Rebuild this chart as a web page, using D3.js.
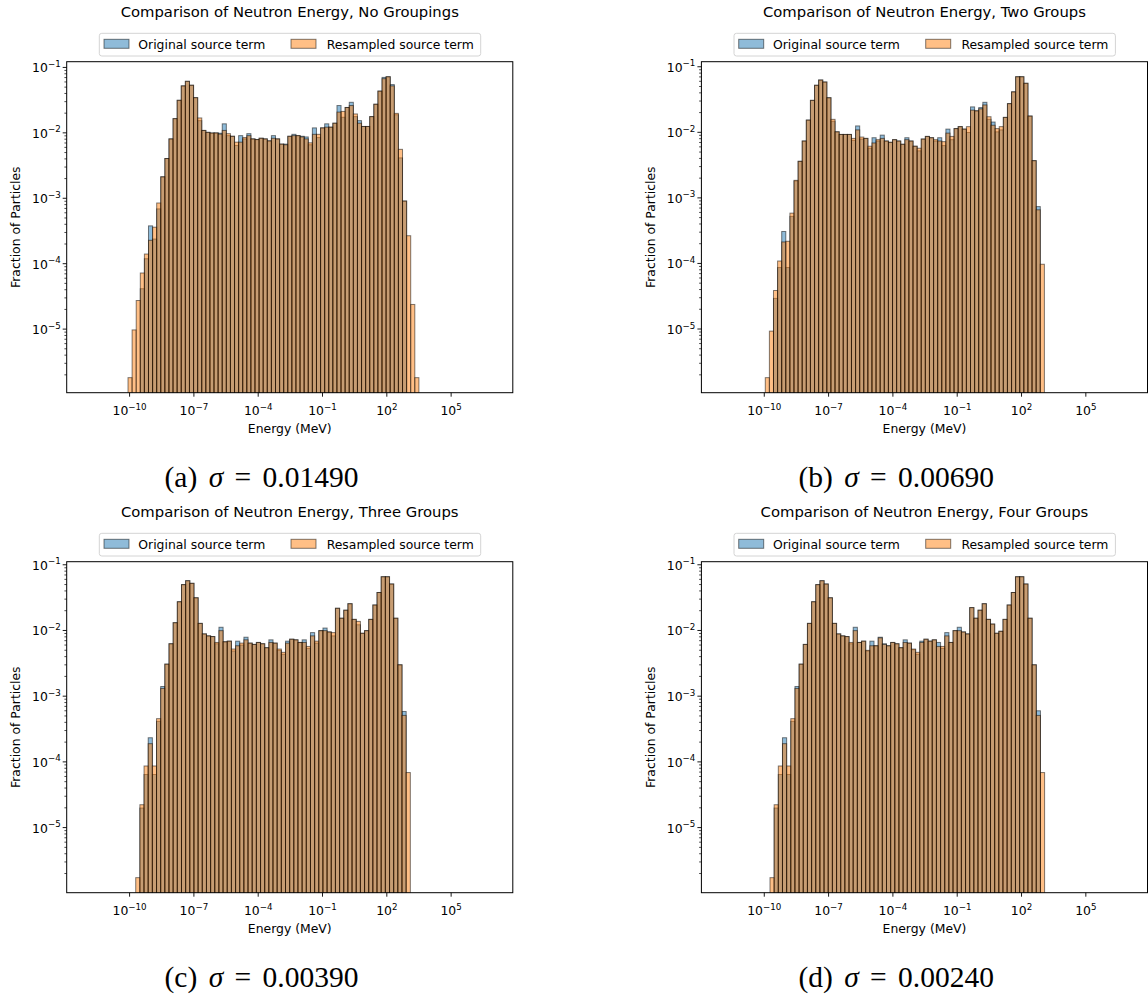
<!DOCTYPE html>
<html>
<head>
<meta charset="utf-8">
<script src="https://cdn.jsdelivr.net/npm/d3@7"></script>
<style>
  body { margin: 0; background: #fff; }
  svg { display: block; }
  text { font-family: "DejaVu Sans", sans-serif; fill: #000; }
</style>
</head>
<body>
<svg id="fig" width="1148" height="999"></svg>
<script>
// ---- Histogram data: fraction of particles per log-spaced energy bin ----
// Bin ranges are given as [log10(Emin), log10(Emax)] in MeV; bins are equal width in log space.

// (a) No groupings
const aBinRange = [-10.05, 3.52];
const aOriginal = [0, 0, 0, 4.07e-5, 1.17e-4, 3.72e-4, 2.34e-4, 6.76e-4, 2.09e-3, 3.98e-3,
  7.94e-3, 0.0162, 0.0309, 0.0513, 0.0603, 0.0525, 0.0339, 0.0151, 0.0107, 0.0100,
  0.00977, 0.0098, 0.0097, 0.0135, 0.00891, 0.00871, 0.00631, 0.00891, 0.00794, 0.00955,
  0.00794, 0.00776, 0.00813, 0.00794, 0.00741, 0.00891, 0.00794, 0.00661, 0.00661, 0.00871,
  0.00933, 0.00891, 0.00871, 0.00851, 0.00646, 0.0117, 0.00832, 0.0117, 0.0135, 0.0120,
  0.0138, 0.0257, 0.0170, 0.0240, 0.0288, 0.0174, 0.0151, 0.0123, 0.0123, 0.0174,
  0.0269, 0.0427, 0.0692, 0.0708, 0.0537, 0.0186, 0.00407, 8.91e-4, 0, 0, 0];
const aResampled = [1.78e-6, 9.55e-6, 2.69e-5, 7.08e-5, 1.38e-4, 2.24e-4, 3.55e-4, 8.32e-4, 2.09e-3, 3.98e-3,
  7.94e-3, 0.0162, 0.0309, 0.0513, 0.0603, 0.0525, 0.0339, 0.0166, 0.0107, 0.0100,
  0.00977, 0.0098, 0.0094, 0.0107, 0.00955, 0.00871, 0.00708, 0.00708, 0.00832, 0.00891,
  0.00794, 0.00776, 0.00813, 0.00794, 0.00741, 0.00813, 0.00794, 0.00661, 0.00646, 0.00871,
  0.00891, 0.00891, 0.00851, 0.00794, 0.00692, 0.00933, 0.00933, 0.0117, 0.0120, 0.0120,
  0.0138, 0.0204, 0.0209, 0.0240, 0.0257, 0.0191, 0.0138, 0.0123, 0.0123, 0.0174,
  0.0269, 0.0427, 0.0661, 0.0708, 0.0513, 0.0195, 0.00550, 8.91e-4, 2.63e-4, 2.34e-5, 1.78e-6];

// (b) Two groups
const bBinRange = [-9.93, 3.09];
const bOriginal = [0, 0, 2.88e-5, 8.51e-5, 3.02e-4, 8.51e-5, 5.13e-4, 1.78e-3, 3.55e-3, 7.24e-3,
  0.0151, 0.0302, 0.0513, 0.0617, 0.0575, 0.0331, 0.0145, 0.0100, 0.00912, 0.00912,
  0.00912, 0.00741, 0.0123, 0.00776, 0.00794, 0.00562, 0.00813, 0.00724, 0.00891, 0.00724,
  0.00692, 0.00759, 0.00724, 0.00646, 0.00813, 0.00724, 0.00603, 0.00513, 0.00776, 0.00851,
  0.00813, 0.00724, 0.00813, 0.00617, 0.0110, 0.00759, 0.0112, 0.0120, 0.0110, 0.00977,
  0.0240, 0.0209, 0.0234, 0.0282, 0.0155, 0.0141, 0.0100, 0.0107, 0.0166, 0.0269,
  0.0407, 0.0692, 0.0692, 0.0550, 0.0174, 0.00363, 7.24e-4, 0];
const bResampled = [1.78e-6, 9.12e-6, 3.80e-5, 1.07e-4, 2.09e-4, 2.14e-4, 5.75e-4, 1.82e-3, 3.55e-3, 7.24e-3,
  0.0151, 0.0302, 0.0513, 0.0617, 0.0575, 0.0331, 0.0155, 0.0100, 0.00912, 0.00912,
  0.00912, 0.00794, 0.0107, 0.00832, 0.00794, 0.00603, 0.00676, 0.00759, 0.00794, 0.00724,
  0.00692, 0.00759, 0.00724, 0.00646, 0.00759, 0.00724, 0.00603, 0.00562, 0.00776, 0.00851,
  0.00813, 0.00759, 0.00724, 0.00708, 0.00955, 0.00851, 0.0112, 0.0120, 0.0110, 0.0120,
  0.0214, 0.0209, 0.0224, 0.0257, 0.0170, 0.0126, 0.0112, 0.0120, 0.0166, 0.0269,
  0.0407, 0.0692, 0.0692, 0.0550, 0.0174, 0.00363, 6.46e-4, 9.55e-5];

// (c) Three groups
const cBinRange = [-9.69, 3.12];
const cOriginal = [0, 1.95e-5, 6.31e-5, 2.29e-4, 6.31e-5, 4.07e-4, 1.38e-3, 3.02e-3, 6.17e-3, 0.0129,
  0.0269, 0.0490, 0.0562, 0.0513, 0.0309, 0.0126, 0.00871, 0.00813, 0.00794, 0.00617,
  0.0110, 0.00661, 0.00676, 0.00479, 0.00676, 0.00589, 0.00776, 0.00631, 0.00603, 0.00646,
  0.00617, 0.00537, 0.00708, 0.00631, 0.00490, 0.00427, 0.00676, 0.00724, 0.00708, 0.00646,
  0.00708, 0.00525, 0.00912, 0.00631, 0.00977, 0.0107, 0.00933, 0.00813, 0.0214, 0.0151,
  0.0200, 0.0251, 0.0145, 0.0120, 0.00891, 0.00977, 0.0145, 0.0240, 0.0372, 0.0646,
  0.0646, 0.0501, 0.0151, 0.00295, 5.75e-4, 0];
const cResampled = [1.70e-6, 2.19e-5, 8.51e-5, 1.86e-4, 8.51e-5, 4.47e-4, 1.29e-3, 3.02e-3, 6.17e-3, 0.0129,
  0.0269, 0.0490, 0.0562, 0.0513, 0.0309, 0.0126, 0.00871, 0.00813, 0.00794, 0.00646,
  0.00977, 0.00661, 0.00676, 0.00513, 0.00575, 0.00631, 0.00708, 0.00631, 0.00603, 0.00646,
  0.00617, 0.00537, 0.00646, 0.00631, 0.00513, 0.00457, 0.00631, 0.00724, 0.00708, 0.00646,
  0.00646, 0.00562, 0.00813, 0.00676, 0.00977, 0.00977, 0.00933, 0.00912, 0.0214, 0.0151,
  0.0200, 0.0251, 0.0145, 0.0135, 0.00891, 0.00977, 0.0145, 0.0240, 0.0372, 0.0646,
  0.0646, 0.0501, 0.0151, 0.00295, 5.01e-4, 6.76e-5];

// (d) Four groups
const dBinRange = [-9.71, 3.10];
const dOriginal = [0, 1.95e-5, 6.31e-5, 2.29e-4, 6.31e-5, 4.07e-4, 1.38e-3, 3.02e-3, 6.03e-3, 0.0126,
  0.0269, 0.0490, 0.0562, 0.0501, 0.0309, 0.0126, 0.00871, 0.00813, 0.00794, 0.00617,
  0.0110, 0.00646, 0.00676, 0.00479, 0.00676, 0.00575, 0.00776, 0.00617, 0.00575, 0.00646,
  0.00617, 0.00537, 0.00708, 0.00631, 0.00501, 0.00427, 0.00676, 0.00724, 0.00676, 0.00708,
  0.00646, 0.00525, 0.00912, 0.00646, 0.00977, 0.0110, 0.00933, 0.00871, 0.0219, 0.0151,
  0.0200, 0.0251, 0.0145, 0.0123, 0.00891, 0.00955, 0.0145, 0.0240, 0.0372, 0.0646,
  0.0646, 0.0501, 0.0151, 0.00295, 5.89e-4, 0];
const dResampled = [1.70e-6, 2.19e-5, 8.51e-5, 1.86e-4, 8.51e-5, 4.47e-4, 1.29e-3, 3.02e-3, 6.03e-3, 0.0126,
  0.0269, 0.0490, 0.0562, 0.0501, 0.0309, 0.0126, 0.00871, 0.00813, 0.00794, 0.00646,
  0.00977, 0.00646, 0.00676, 0.00490, 0.00575, 0.00575, 0.00759, 0.00603, 0.00575, 0.00646,
  0.00617, 0.00537, 0.00646, 0.00631, 0.00513, 0.00457, 0.00646, 0.00724, 0.00676, 0.00708,
  0.00562, 0.00562, 0.00813, 0.00646, 0.00977, 0.00977, 0.00933, 0.00871, 0.0219, 0.0151,
  0.0200, 0.0251, 0.0145, 0.0123, 0.00891, 0.00955, 0.0145, 0.0240, 0.0372, 0.0646,
  0.0646, 0.0501, 0.0151, 0.00295, 5.01e-4, 6.76e-5];

const panelTitles = [
  "Comparison of Neutron Energy, No Groupings",
  "Comparison of Neutron Energy, Two Groups",
  "Comparison of Neutron Energy, Three Groups",
  "Comparison of Neutron Energy, Four Groups"
];
const captionTags = ["(a)", "(b)", "(c)", "(d)"];
const sigmaValues = ["0.01490", "0.00690", "0.00390", "0.00240"];
const seriesNames = ["Original source term", "Resampled source term"];
const xTickExponents = [-10, -7, -4, -1, 2, 5];
const yTickExponents = [-5, -4, -3, -2, -1];
const xLabel = "Energy (MeV)";
const yLabel = "Fraction of Particles";

// ---- Layout ----
const colors = ["#1f77b4", "#ff7f0e"];
const plot = { left: 66.7, right: 512.8, top: 61.7, bottom: 392.7 };
const offsets = [[0, 0], [634.7, 0], [0, 500], [634.7, 500]];
const captionCenter = 261.5;
const captionBaseline = 487;
const baseFont = "12.4px";

const panels = [
  { range: aBinRange, original: aOriginal, resampled: aResampled },
  { range: bBinRange, original: bOriginal, resampled: bResampled },
  { range: cBinRange, original: cOriginal, resampled: cResampled },
  { range: dBinRange, original: dOriginal, resampled: dResampled }
];

const svg = d3.select("#fig");
const x = d3.scaleLog()
  .domain([Math.pow(10, -12.91), Math.pow(10, 7.90)])
  .range([plot.left, plot.right]);

function addPowerLabel(sel, exp, bigSize, smallSize, rise) {
  sel.append("tspan").text("10").attr("font-size", bigSize);
  sel.append("tspan").text(String(exp).replace("-", "\u2212"))
    .attr("font-size", smallSize).attr("dy", -rise);
}

panels.forEach((p, pi) => {
  const g = svg.append("g").attr("transform", `translate(${offsets[pi][0]},${offsets[pi][1]})`);

  // log y-scale padded 5% (in log space) around the data, as matplotlib autoscaling does
  const all = p.original.concat(p.resampled).filter(v => v > 0);
  const lmin = Math.log10(d3.min(all)), lmax = Math.log10(d3.max(all));
  const pad = (lmax - lmin) * 0.05;
  const y = d3.scaleLog()
    .domain([Math.pow(10, lmin - pad), Math.pow(10, lmax + pad)])
    .range([plot.bottom, plot.top]);

  const clipId = "clip" + pi;
  g.append("clipPath").attr("id", clipId).append("rect")
    .attr("x", plot.left).attr("y", plot.top)
    .attr("width", plot.right - plot.left).attr("height", plot.bottom - plot.top);

  const n = p.original.length;
  const step = (p.range[1] - p.range[0]) / n;
  const edges = d3.range(n + 1).map(i => Math.pow(10, p.range[0] + i * step));

  [p.original, p.resampled].forEach((vals, si) => {
    g.append("g").attr("clip-path", `url(#${clipId})`)
      .selectAll("rect")
      .data(vals.map((v, i) => ({ v, i })).filter(d => d.v > 0))
      .join("rect")
      .attr("x", d => x(edges[d.i]))
      .attr("width", d => x(edges[d.i + 1]) - x(edges[d.i]))
      .attr("y", d => y(d.v))
      .attr("height", d => plot.bottom + 4 - y(d.v))
      .attr("fill", colors[si]).attr("fill-opacity", 0.5)
      .attr("stroke", "#000").attr("stroke-opacity", 0.5).attr("stroke-width", 1);
  });

  // x axis: major ticks every three decades
  const xAxis = g.append("g").attr("transform", `translate(0,${plot.bottom})`)
    .call(d3.axisBottom(x).tickValues(xTickExponents.map(e => Math.pow(10, e)))
      .tickSize(4).tickFormat(""));
  xAxis.select(".domain").remove();
  xAxis.selectAll(".tick line").attr("stroke", "#000").attr("stroke-width", 0.9);
  xAxis.selectAll(".tick").each(function (d, i) {
    const t = d3.select(this).append("text")
      .attr("y", 22.5).attr("text-anchor", "middle").attr("fill", "#000");
    addPowerLabel(t, xTickExponents[i], baseFont, "8.7px", 5.5);
  });

  // y axis: decades plus minor ticks
  const minor = [];
  for (let e = -7; e <= 0; e++) for (let m = 2; m <= 9; m++) {
    const v = m * Math.pow(10, e);
    if (v >= y.domain()[0] && v <= y.domain()[1]) minor.push(v);
  }
  const yMinor = g.append("g").attr("transform", `translate(${plot.left},0)`)
    .call(d3.axisLeft(y).tickValues(minor).tickSize(2.3).tickFormat(""));
  yMinor.select(".domain").remove();
  yMinor.selectAll(".tick line").attr("stroke", "#000").attr("stroke-width", 0.7);

  const yAxis = g.append("g").attr("transform", `translate(${plot.left},0)`)
    .call(d3.axisLeft(y).tickValues(yTickExponents.map(e => Math.pow(10, e)))
      .tickSize(4).tickFormat(""));
  yAxis.select(".domain").remove();
  yAxis.selectAll(".tick line").attr("stroke", "#000").attr("stroke-width", 0.9);
  yAxis.selectAll(".tick").each(function (d, i) {
    const t = d3.select(this).append("text")
      .attr("x", -6).attr("y", 5).attr("text-anchor", "end").attr("fill", "#000");
    addPowerLabel(t, yTickExponents[i], baseFont, "8.7px", 5.5);
  });

  // spines
  g.append("rect")
    .attr("x", plot.left).attr("y", plot.top)
    .attr("width", plot.right - plot.left).attr("height", plot.bottom - plot.top)
    .attr("fill", "none").attr("stroke", "#000").attr("stroke-width", 1);

  const cx = (plot.left + plot.right) / 2;

  // title
  g.append("text").attr("x", cx).attr("y", 17.3).attr("text-anchor", "middle")
    .attr("font-size", "14.8px").text(panelTitles[pi]);

  // axis labels
  g.append("text").attr("x", cx).attr("y", 432.7).attr("text-anchor", "middle")
    .attr("font-size", baseFont).text(xLabel);
  g.append("text").attr("transform", `translate(20,${(plot.top + plot.bottom) / 2}) rotate(-90)`)
    .attr("text-anchor", "middle").attr("font-size", baseFont).text(yLabel);

  // legend above the axes
  const lg = g.append("g");
  lg.append("rect").attr("x", 99.3).attr("y", 33.3).attr("width", 381.4).attr("height", 22.7)
    .attr("rx", 2.5).attr("fill", "#fff").attr("stroke", "#d4d4d4").attr("stroke-width", 1);
  const keyX = [104, 291];
  const textX = [138.3, 326.7];
  seriesNames.forEach((name, si) => {
    lg.append("rect").attr("x", keyX[si]).attr("y", 39.3).attr("width", 25).attr("height", 9)
      .attr("fill", colors[si]).attr("fill-opacity", 0.5)
      .attr("stroke", "#000").attr("stroke-opacity", 0.5).attr("stroke-width", 1);
    lg.append("text").attr("x", textX[si]).attr("y", 48.6).attr("font-size", baseFont).text(name);
  });

  // sub-figure caption
  const cap = g.append("text").attr("x", captionCenter).attr("y", captionBaseline)
    .attr("text-anchor", "middle")
    .style("font-family", "'Liberation Serif', 'DejaVu Serif', serif")
    .style("word-spacing", "4px")
    .attr("font-size", "29.5px");
  cap.append("tspan").text(captionTags[pi] + " ");
  cap.append("tspan").attr("font-style", "italic").text("\u03C3");
  cap.append("tspan").text(" = " + sigmaValues[pi]);
});
</script>
</body>
</html>
